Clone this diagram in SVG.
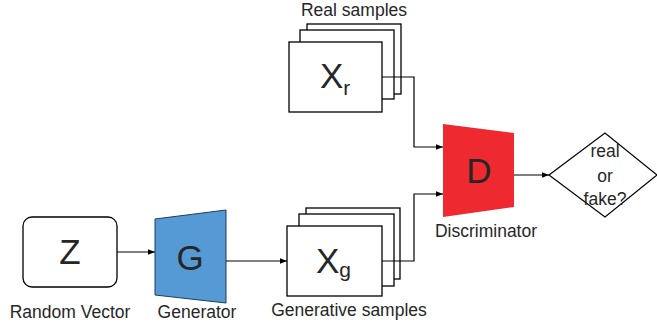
<svg xmlns="http://www.w3.org/2000/svg" width="657" height="328" viewBox="0 0 657 328">
<style>
.box{fill:#fff;stroke:#000;stroke-width:1.3}
.lbl{font-family:"Liberation Sans",Arial,sans-serif;font-size:17.5px;fill:#262626;text-anchor:middle}
.big{font-family:"Liberation Sans",Arial,sans-serif;font-size:35px;fill:#262626;text-anchor:middle}
.bx{font-family:"Liberation Sans",Arial,sans-serif;font-size:35px;fill:#262626}
.sub{font-size:21px}
.dia{font-family:"Liberation Sans",Arial,sans-serif;font-size:17.5px;fill:#262626;text-anchor:middle}
.ln{fill:none;stroke:#000;stroke-width:1.2}
</style>
<defs>
<marker id="ah" viewBox="0 0 10 10" refX="10" refY="5" markerWidth="7" markerHeight="7" markerUnits="userSpaceOnUse" orient="auto">
<path d="M0,1 L10,5 L0,9 z" fill="#000"/>
</marker>
</defs>
<g id="z">
<rect class="box" x="23" y="217" width="94" height="70" rx="9"/>
<text class="big" x="70" y="264">Z</text>
<text class="lbl" x="70" y="318">Random Vector</text>
</g>
<g id="g">
<polygon points="155,219 226,210 226,303 155,295" fill="#559AD5" stroke="#1f3d5c" stroke-width="1"/>
<text class="big" x="190" y="270">G</text>
<text class="lbl" x="197" y="318">Generator</text>
</g>
<g id="xr">
<rect class="box" x="307" y="24" width="94" height="70"/>
<rect class="box" x="300" y="30" width="94" height="69"/>
<rect class="box" x="289" y="42" width="93" height="70"/>
<text class="bx" x="320" y="88">X<tspan class="sub" dy="7">r</tspan></text>
<text class="lbl" x="354" y="16">Real samples</text>
</g>
<g id="xg">
<rect class="box" x="306" y="208" width="94" height="71"/>
<rect class="box" x="299" y="214" width="95" height="72"/>
<rect class="box" x="287" y="226" width="95" height="70"/>
<text class="bx" x="316" y="273">X<tspan class="sub" dy="4">g</tspan></text>
<text class="lbl" x="349" y="316">Generative samples</text>
</g>
<g id="d">
<polygon points="443,124 514,133 514,207 443,217" fill="#EE2A30"/>
<text class="big" x="479" y="183">D</text>
<text class="lbl" x="486" y="237">Discriminator</text>
</g>
<g id="out">
<polygon points="549,175 605,133 657,175 605,217" fill="#fff" stroke="#000" stroke-width="1.2"/>
<text class="dia" x="605" y="157">real</text>
<text class="dia" x="605" y="182">or</text>
<text class="dia" x="605" y="205">fake?</text>
</g>
<g id="connectors">
<path class="ln" d="M117,252 L155,252" marker-end="url(#ah)"/>
<path class="ln" d="M226,261 L287,261" marker-end="url(#ah)"/>
<path class="ln" d="M382,77 L414,77 L414,147 L443,147" marker-end="url(#ah)"/>
<path class="ln" d="M382,261 L414,261 L414,194 L443,194" marker-end="url(#ah)"/>
<path class="ln" d="M514,175 L549,175" marker-end="url(#ah)"/>
</g>
</svg>
